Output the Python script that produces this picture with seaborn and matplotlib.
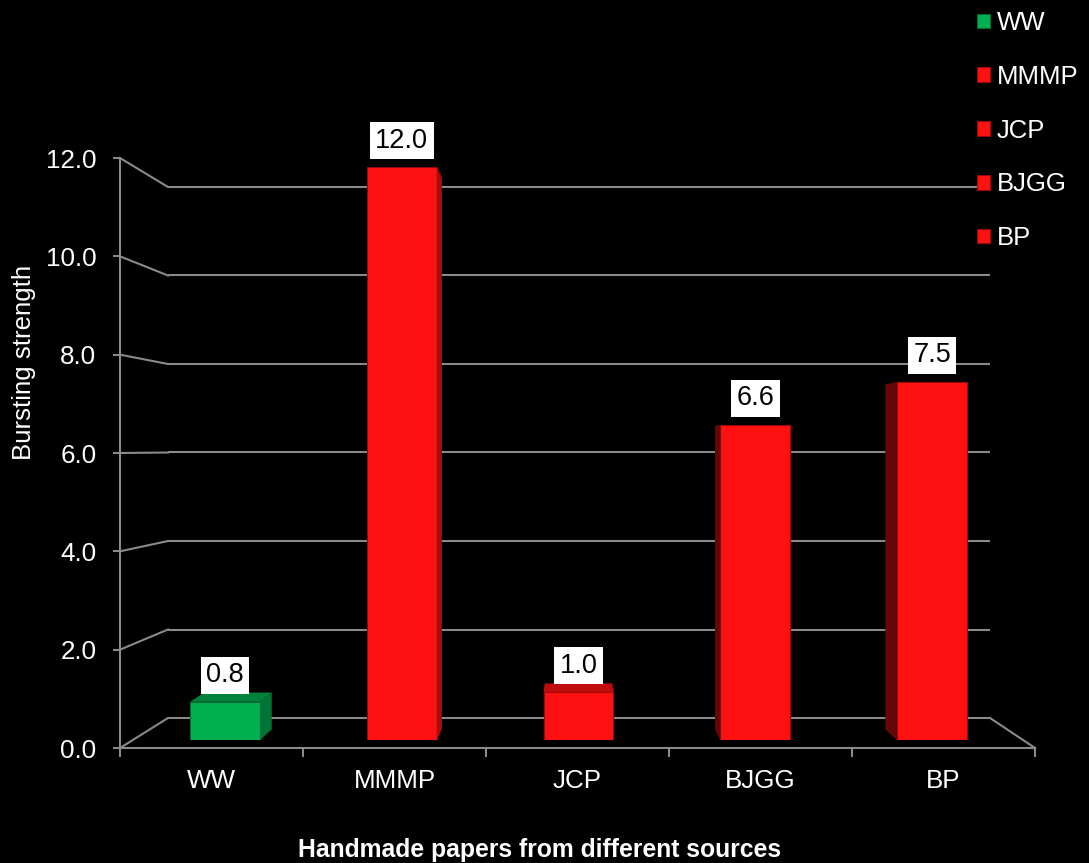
import numpy as np
import pandas as pd
import matplotlib
matplotlib.use("Agg")
import matplotlib.pyplot as plt
import matplotlib.colors as mcolors
import seaborn as sns
from matplotlib.patches import Polygon
from matplotlib.lines import Line2D

# Bursting strength of handmade papers
sources = ["WW", "MMMP", "JCP", "BJGG", "BP"]
strength = [0.8, 12.0, 1.0, 6.6, 7.5]
bar_colors = ["#00B050", "#FF1111", "#FF1111", "#FF1111", "#FF1111"]
y_ticks = [0, 2, 4, 6, 8, 10, 12]
y_label = "Bursting strength"
x_label = "Handmade papers from different sources"

W, H = 1089, 863
plt.rcParams["font.family"] = ["Liberation Sans", "DejaVu Sans"]
grey = "#8A8A8A"

fig = plt.figure(figsize=(W / 100, H / 100), dpi=100, facecolor="black")


def px_rect(left, top, right, bottom):
    return [left / W, 1 - bottom / H, (right - left) / W, (bottom - top) / H]


# back wall, front frame and bar plane of the pseudo-3D box
ax_back = fig.add_axes(px_rect(168, 187, 990, 718))
ax_front = fig.add_axes(px_rect(120, 158, 1035, 748))
ax_bars = fig.add_axes(px_rect(136.6, 167, 1020.4, 740))
for z, ax in enumerate([ax_back, ax_front, ax_bars]):
    ax.set_facecolor("none")
    ax.set_zorder(z)

# back wall gridlines
ax_back.set_xlim(0, 1)
ax_back.set_ylim(0, 12)
ax_back.axis("off")
ax_back.hlines(y_ticks, 0, 1, transform=ax_back.get_yaxis_transform(),
               color=grey, lw=1.5, clip_on=False)

# front frame with ticks and labels
ax_front.set_xlim(0, len(sources))
ax_front.set_ylim(0, 12)
for s in ["top", "right"]:
    ax_front.spines[s].set_visible(False)
for s in ["left", "bottom"]:
    ax_front.spines[s].set_color(grey)
    ax_front.spines[s].set_linewidth(1.5)
ax_front.set_yticks(y_ticks)
ax_front.set_yticklabels([f"{v:.1f}" for v in y_ticks])
ax_front.tick_params(axis="y", colors=grey, labelcolor="white", labelsize=18.7,
                     length=5, width=1.5, pad=12, direction="out")
ax_front.set_xticks(np.arange(len(sources) + 1))
ax_front.set_xticklabels([])
ax_front.set_xticks(np.arange(len(sources)) + 0.5, minor=True)
ax_front.set_xticklabels(sources, minor=True)
ax_front.tick_params(axis="x", which="major", colors=grey, length=6.5,
                     width=1.5, direction="out")
ax_front.tick_params(axis="x", which="minor", length=0, labelcolor="white",
                     labelsize=18.7, pad=15)
ax_front.grid(False)
ax_front.set_ylabel(y_label, color="white", fontsize=18.6)
ax_front.yaxis.set_label_coords(-0.092, 0.654)
ax_front.set_xlabel(x_label, color="white", fontsize=17.8, fontweight="bold")
ax_front.xaxis.set_label_coords(0.458, -0.153)

# bars
df = pd.DataFrame({"source": sources, "strength": strength})
sns.barplot(data=df, x="source", y="strength", hue="source", palette=bar_colors,
            width=0.396, saturation=1, legend=False, ax=ax_bars)
ax_bars.set_xlim(-0.5, len(sources) - 0.5)
ax_bars.set_ylim(0, 12)
ax_bars.axis("off")


def shade(c, f):
    r, g, b = mcolors.to_rgb(c)
    return (r * f, g * f, b * f)


for patch, c in zip(ax_bars.patches, bar_colors):
    patch.set_edgecolor(shade(c, 0.6))
    patch.set_linewidth(0.8)

# perspective connectors from the front frame to the back wall
to_fig = fig.transFigure.inverted()
for v in y_ticks:
    pf = ax_front.transData.transform((0, v))
    pb = ax_back.transData.transform((0, v))
    (x0, y0), (x1, y1) = to_fig.transform([pf, pb])
    fig.add_artist(Line2D([x0, x1], [y0, y1], color=grey, lw=1.5,
                          transform=fig.transFigure, zorder=0.5))
pf = ax_front.transData.transform((len(sources), 0))
pb = ax_back.transData.transform((1, 0))
(x0, y0), (x1, y1) = to_fig.transform([pf, pb])
fig.add_artist(Line2D([x0, x1], [y0, y1], color=grey, lw=1.5,
                      transform=fig.transFigure, zorder=0.5))

# bar depth faces, receding toward a vanishing point
vx, vy = 578, H - 453
k = 0.037


def recede(p):
    return (p[0] + (vx - p[0]) * k, p[1] + (vy - p[1]) * k)


def add_face(pts, color):
    poly = Polygon(to_fig.transform(pts), closed=True, facecolor=color,
                   edgecolor="none", transform=fig.transFigure, zorder=1.5)
    ax_bars.add_patch(poly)
    poly.set_clip_on(False)


for patch, c in zip(ax_bars.patches, bar_colors):
    x0 = patch.get_x()
    x1 = x0 + patch.get_width()
    h = patch.get_height()
    (px0, pyb), (px1, pyt) = ax_bars.transData.transform([(x0, 0), (x1, h)])
    if px1 < vx - 1:
        pts = [(px1, pyb), (px1, pyt), recede((px1, pyt)), recede((px1, pyb))]
        add_face(pts, shade(c, 0.66))
    elif px0 > vx + 1:
        pts = [(px0, pyb), (px0, pyt), recede((px0, pyt)), recede((px0, pyb))]
        add_face(pts, shade(c, 0.4))
    if pyt < vy:
        pts = [(px0, pyt), (px1, pyt), recede((px1, pyt)), recede((px0, pyt))]
        add_face(pts, shade(c, 0.75))

# value labels
for cont in ax_bars.containers:
    ax_bars.bar_label(cont, fmt="%.1f", padding=9.7, fontsize=19.5, color="black",
                      bbox=dict(boxstyle="square,pad=0.2", fc="white", ec="none"),
                      zorder=4)

# legend
fig.legend(handles=list(ax_bars.patches[:len(sources)]), labels=sources,
           loc="upper left", bbox_to_anchor=(977 / W, 1 - 11 / H), frameon=False,
           fontsize=18.5, handlelength=0.5, handleheight=0.5,
           handletextpad=0.28, labelspacing=1.16, borderpad=0, borderaxespad=0,
           labelcolor="white")

fig.savefig("out.png", dpi=100, facecolor="black")
